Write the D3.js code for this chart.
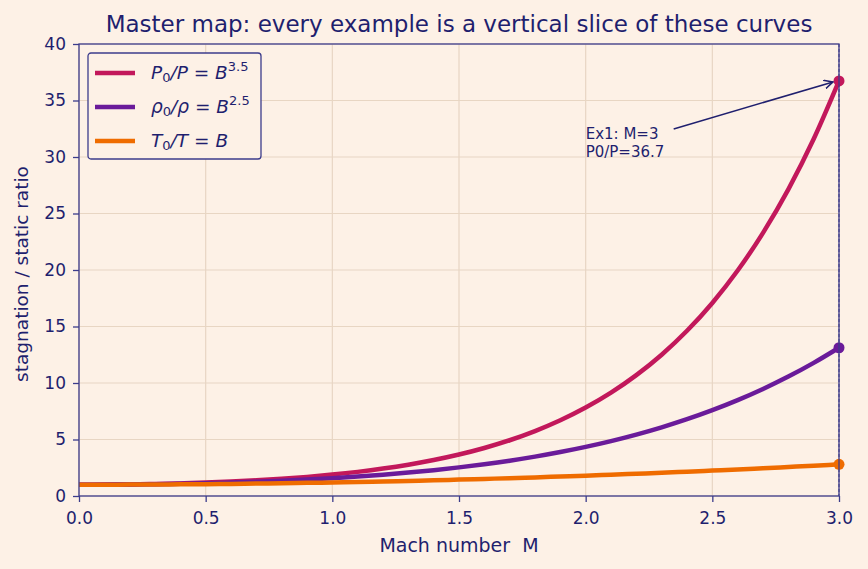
<!DOCTYPE html>
<html>
<head>
<meta charset="utf-8">
<script src="https://cdn.jsdelivr.net/npm/d3@7"></script>
<style>
  body { margin: 0; background: #fdf1e6; }
  svg { display: block; font-family: "DejaVu Sans", sans-serif; }
</style>
</head>
<body>
<div class="chart"></div>
<script>
// Mach numbers and the three ratios
const mach = [0, 0.1, 0.2, 0.3, 0.4, 0.5, 0.6, 0.7, 0.8, 0.9, 1.0, 1.1, 1.2, 1.3, 1.4, 1.5,
  1.6, 1.7, 1.8, 1.9, 2.0, 2.1, 2.2, 2.3, 2.4, 2.5, 2.6, 2.7, 2.8, 2.9, 3.0]
const pRatio = [1, 1.007, 1.028, 1.064, 1.117, 1.186, 1.276, 1.387, 1.524, 1.691, 1.893, 2.135,
  2.425, 2.771, 3.183, 3.671, 4.250, 4.934, 5.746, 6.701, 7.824, 9.145, 10.694, 12.502, 14.620,
  17.086, 19.954, 23.283, 27.138, 31.590, 36.733]
const rhoRatio = [1, 1.005, 1.020, 1.046, 1.082, 1.130, 1.190, 1.263, 1.351, 1.456, 1.577, 1.719,
  1.883, 2.071, 2.287, 2.532, 2.811, 3.127, 3.487, 3.891, 4.347, 4.859, 5.434, 6.075, 6.794,
  7.594, 8.484, 9.472, 10.568, 11.780, 13.119]
const tRatio = [1, 1.002, 1.008, 1.018, 1.032, 1.05, 1.072, 1.098, 1.128, 1.162, 1.2, 1.242,
  1.288, 1.338, 1.392, 1.45, 1.512, 1.578, 1.648, 1.722, 1.8, 1.882, 1.968, 2.058, 2.152,
  2.25, 2.352, 2.458, 2.568, 2.682, 2.8]

const xTicks = [0, 0.5, 1.0, 1.5, 2.0, 2.5, 3.0]
const yTicks = [0, 5, 10, 15, 20, 25, 30, 35, 40]

const series = [
  { name: 'P', values: pRatio, color: '#c2185b', sym: 'P', sup: '3.5' },
  { name: 'rho', values: rhoRatio, color: '#6a1b9a', sym: 'ρ', sup: '2.5' },
  { name: 'T', values: tRatio, color: '#ef6c00', sym: 'T', sup: null }
]

const ink = '#1f1f6e'
const spine = '#3c3c8c'
const grid = '#e8d6c3'

const W = 868, H = 569
const margin = { top: 44, right: 29, bottom: 73, left: 79 }
const width = W - margin.left - margin.right
const height = H - margin.top - margin.bottom

const svg = d3.select('.chart').append('svg')
  .attr('width', W).attr('height', H)

svg.append('rect').attr('width', W).attr('height', H).attr('fill', '#fdf1e6')

const g = svg.append('g')
  .attr('transform', 'translate(' + margin.left + ',' + margin.top + ')')

const x = d3.scaleLinear().domain([0, 3]).range([0, width])
const y = d3.scaleLinear().domain([0, 40]).range([height, 0])

// grid
g.append('g').selectAll('line').data(xTicks).enter().append('line')
  .attr('x1', d => x(d)).attr('x2', d => x(d))
  .attr('y1', 0).attr('y2', height)
  .attr('stroke', grid).attr('stroke-width', 1.2)
g.append('g').selectAll('line').data(yTicks).enter().append('line')
  .attr('x1', 0).attr('x2', width)
  .attr('y1', d => y(d)).attr('y2', d => y(d))
  .attr('stroke', grid).attr('stroke-width', 1.2)

// curves
const line = d3.line().curve(d3.curveMonotoneX)
series.forEach(s => {
  g.append('path')
    .datum(s.values.map((v, i) => [mach[i], v]))
    .attr('fill', 'none')
    .attr('stroke', s.color)
    .attr('stroke-width', 4.5)
    .attr('stroke-linecap', 'butt')
    .attr('d', line.x(d => x(d[0])).y(d => y(d[1])))
})

// slice at M=3
const last = mach.length - 1
g.append('line')
  .attr('x1', x(mach[last])).attr('x2', x(mach[last]))
  .attr('y1', 0).attr('y2', height)
  .attr('stroke', spine).attr('stroke-width', 1)
  .attr('stroke-dasharray', '3,2')

series.forEach(s => {
  g.append('circle')
    .attr('cx', x(mach[last])).attr('cy', y(s.values[last]))
    .attr('r', 5.5).attr('fill', s.color)
})

// spines
g.append('rect').attr('width', width).attr('height', height)
  .attr('fill', 'none').attr('stroke', spine).attr('stroke-width', 1.3)

// axes
const xAxis = g.append('g')
  .attr('transform', 'translate(0,' + height + ')')
  .call(d3.axisBottom(x).tickValues(xTicks).tickFormat(d3.format('.1f')).tickSize(6).tickPadding(10))
const yAxis = g.append('g')
  .call(d3.axisLeft(y).tickValues(yTicks).tickFormat(d3.format('d')).tickSize(6).tickPadding(7))
;[xAxis, yAxis].forEach(a => {
  a.select('.domain').remove()
  a.selectAll('line').attr('stroke', spine).attr('stroke-width', 1.3)
  a.selectAll('text').attr('fill', ink).attr('font-size', 17)
    .attr('font-family', '"DejaVu Sans", sans-serif')
})

// labels
svg.append('text')
  .attr('x', margin.left + width / 2).attr('y', 552)
  .attr('text-anchor', 'middle').attr('fill', ink).attr('font-size', 19)
  .style('white-space', 'pre')
  .text('Mach number  M')
svg.append('text')
  .attr('transform', 'translate(28,' + (margin.top + height / 2 + 4) + ') rotate(-90)')
  .attr('text-anchor', 'middle').attr('fill', ink).attr('font-size', 18.5)
  .text('stagnation / static ratio')
svg.append('text')
  .attr('x', margin.left + width / 2).attr('y', 32)
  .attr('text-anchor', 'middle').attr('fill', ink).attr('font-size', 23)
  .text('Master map: every example is a vertical slice of these curves')

// annotation
svg.append('defs').append('marker')
  .attr('id', 'arr').attr('viewBox', '0 0 10 10')
  .attr('refX', 9).attr('refY', 5)
  .attr('markerWidth', 10).attr('markerHeight', 10)
  .attr('markerUnits', 'userSpaceOnUse')
  .attr('orient', 'auto')
  .append('path').attr('d', 'M0,0.5 L9,5 L0,9.5').attr('fill', 'none')
  .attr('stroke', ink).attr('stroke-width', 1.5)

const ax = x(2.0), ay = y(30.0)
const ann = g.append('text').attr('fill', ink).attr('font-size', 15)
ann.append('tspan').attr('x', ax).attr('y', ay - 18).text('Ex1: M=3')
ann.append('tspan').attr('x', ax).attr('y', ay).text('P0/P=36.7')
g.append('line')
  .attr('x1', ax + 88).attr('y1', ay - 28)
  .attr('x2', x(3) - 6).attr('y2', y(pRatio[last]) + 1)
  .attr('stroke', ink).attr('stroke-width', 1.5)
  .attr('marker-end', 'url(#arr)')

// legend
const lg = svg.append('g').attr('transform', 'translate(88,53)')
lg.append('rect').attr('width', 173).attr('height', 106).attr('rx', 3)
  .attr('fill', '#fdf1e6').attr('stroke', spine).attr('stroke-width', 1.3)
series.forEach((s, i) => {
  const ly = 20 + i * 34
  lg.append('line').attr('x1', 7).attr('x2', 47).attr('y1', ly).attr('y2', ly)
    .attr('stroke', s.color).attr('stroke-width', 4.5)
  const t = lg.append('text').attr('x', 63).attr('y', ly + 6)
    .attr('fill', ink).attr('font-size', 18.5).attr('font-style', 'italic')
    .style('white-space', 'pre')
  t.append('tspan').text(s.sym)
  t.append('tspan').attr('font-size', 13).attr('font-style', 'normal').attr('dy', 3).text('0')
  t.append('tspan').attr('dy', -3).text('/' + s.sym)
  t.append('tspan').attr('font-style', 'normal').text(' = ')
  t.append('tspan').text('B')
  if (s.sup) {
    t.append('tspan').attr('font-size', 13).attr('font-style', 'normal').attr('dy', -8).text(s.sup)
  }
})
</script>
</body>
</html>
